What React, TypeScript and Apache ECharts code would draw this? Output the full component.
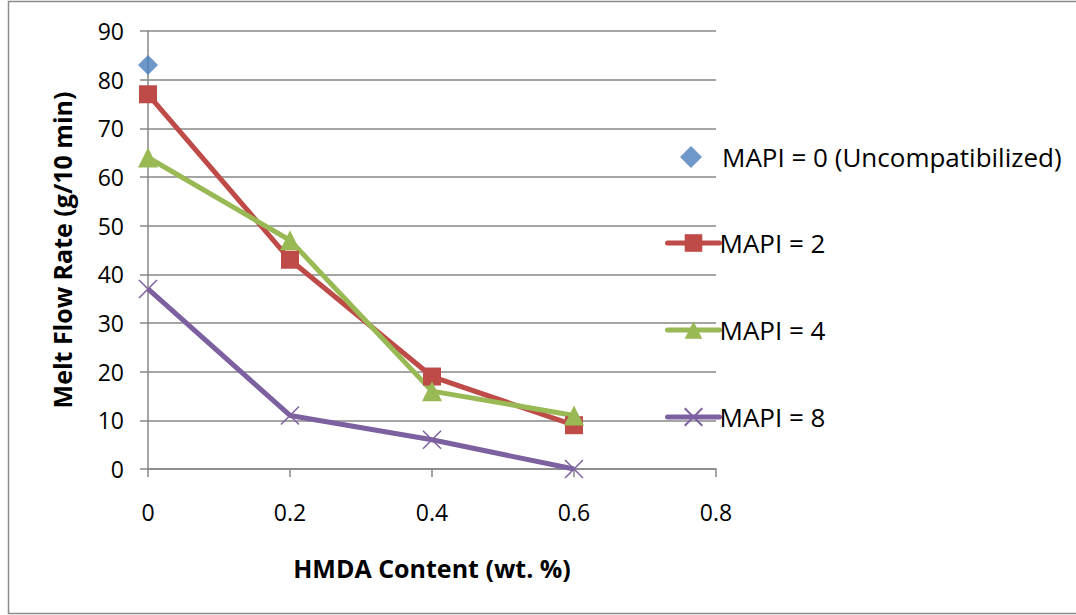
import React, { useEffect, useRef } from "react";
import * as echarts from "echarts";

// HMDA content (wt. %) on the x axis
const hmdaContent = [0, 0.2, 0.4, 0.6];
// Melt flow rate (g/10 min) for each MAPI level
const mapi0Values = [83];
const mapi2Values = [77, 43, 19, 9];
const mapi4Values = [64, 47, 16, 11];
const mapi8Values = [37, 11, 6, 0];

const seriesNames = [
  "MAPI = 0 (Uncompatibilized)",
  "MAPI = 2",
  "MAPI = 4",
  "MAPI = 8",
];
const legendCenters = [157, 243, 330, 417];

const FONT = "'Open Sans', sans-serif";
const AXIS_GRAY = "#878787";
const DIAMOND_ICON = "path://M9,0L18,9L9,18L0,9Z";

const pairs = (vals: number[]) => vals.map((v, i) => [hmdaContent[i], v]);

export default function App() {
  const ref = useRef<HTMLDivElement>(null);

  useEffect(() => {
    if (!ref.current) return;
    const chart = echarts.init(ref.current, null, { renderer: "svg" });

    const textStyle = {
      fontFamily: FONT,
      fontSize: 26,
      color: "#000",
      lineHeight: 30,
    };

    // The scatter entry shows a lone diamond; the line entries show line + marker.
    const legends = seriesNames.map((name, i) =>
      i === 0
        ? {
            data: [{ name, icon: DIAMOND_ICON }],
            orient: "vertical",
            left: 680,
            top: legendCenters[i] - 15,
            itemWidth: 22,
            itemHeight: 22,
            itemGap: 0,
            textStyle: { ...textStyle, padding: [0, 0, 0, 15] },
            padding: 0,
          }
        : {
            data: [name],
            orient: "vertical",
            left: 665,
            top: legendCenters[i] - 15,
            itemWidth: 52,
            itemHeight: 22,
            itemGap: 0,
            lineStyle: { width: 5, cap: "round" },
            textStyle: { ...textStyle, padding: [0, 0, 0, -5] },
            padding: 0,
          }
    );

    chart.setOption({
      animation: false,
      textStyle: { fontFamily: FONT },
      graphic: [
        {
          type: "rect",
          shape: { x: 8.5, y: 1.5, width: 1080, height: 612 },
          style: { fill: "none", stroke: "#8a8a8a", lineWidth: 1.5 },
          silent: true,
        },
      ],
      legend: legends,
      grid: { left: 148, top: 31, width: 568, height: 438 },
      xAxis: {
        type: "value",
        min: 0,
        max: 0.8,
        interval: 0.2,
        name: "HMDA Content (wt. %)",
        nameLocation: "middle",
        nameGap: 86,
        nameTextStyle: {
          fontFamily: FONT,
          fontSize: 25,
          fontWeight: "bold",
          color: "#000",
        },
        axisLine: { show: true, onZero: false, lineStyle: { color: AXIS_GRAY, width: 1.5 } },
        axisTick: { show: true, length: 8, lineStyle: { color: AXIS_GRAY, width: 1.5 } },
        axisLabel: {
          fontFamily: FONT,
          fontSize: 23,
          color: "#000",
          margin: 31,
          formatter: (v: number) => String(Math.round(v * 10) / 10),
        },
        splitLine: { show: false },
      },
      yAxis: {
        type: "value",
        min: 0,
        max: 90,
        interval: 10,
        name: "Melt Flow Rate (g/10 min)",
        nameLocation: "middle",
        nameGap: 74,
        nameTextStyle: {
          fontFamily: FONT,
          fontSize: 25,
          fontWeight: "bold",
          color: "#000",
        },
        axisLine: { show: true, lineStyle: { color: AXIS_GRAY, width: 1.5 } },
        axisTick: { show: true, length: 8, lineStyle: { color: AXIS_GRAY, width: 1.5 } },
        axisLabel: { fontFamily: FONT, fontSize: 23, color: "#000", margin: 24 },
        splitLine: { show: true, lineStyle: { color: AXIS_GRAY, width: 1.5 } },
      },
      series: [
        {
          name: seriesNames[0],
          type: "scatter",
          data: pairs(mapi0Values),
          symbol: "diamond",
          symbolSize: 20,
          itemStyle: { color: "#4a7ebb" },
        },
        {
          name: seriesNames[1],
          type: "line",
          data: pairs(mapi2Values),
          symbol: "rect",
          symbolSize: 18,
          lineStyle: { color: "#be4b48", width: 5 },
          itemStyle: { color: "#be4b48" },
        },
        {
          name: seriesNames[2],
          type: "line",
          data: pairs(mapi4Values),
          symbol: "triangle",
          symbolSize: 20,
          lineStyle: { color: "#98b954", width: 5 },
          itemStyle: { color: "#98b954" },
        },
        {
          name: seriesNames[3],
          type: "line",
          data: pairs(mapi8Values),
          symbol: "path://M0,0L10,10M10,0L0,10",
          symbolSize: 18,
          lineStyle: { color: "#7d60a0", width: 5 },
          itemStyle: { color: "none", borderColor: "#7d60a0", borderWidth: 1.5 },
        },
      ],
    });

    return () => chart.dispose();
  }, []);

  return (
    <div
      ref={ref}
      style={{ position: "absolute", left: 0, top: 0, width: 1076, height: 615, background: "#fff" }}
    />
  );
}
